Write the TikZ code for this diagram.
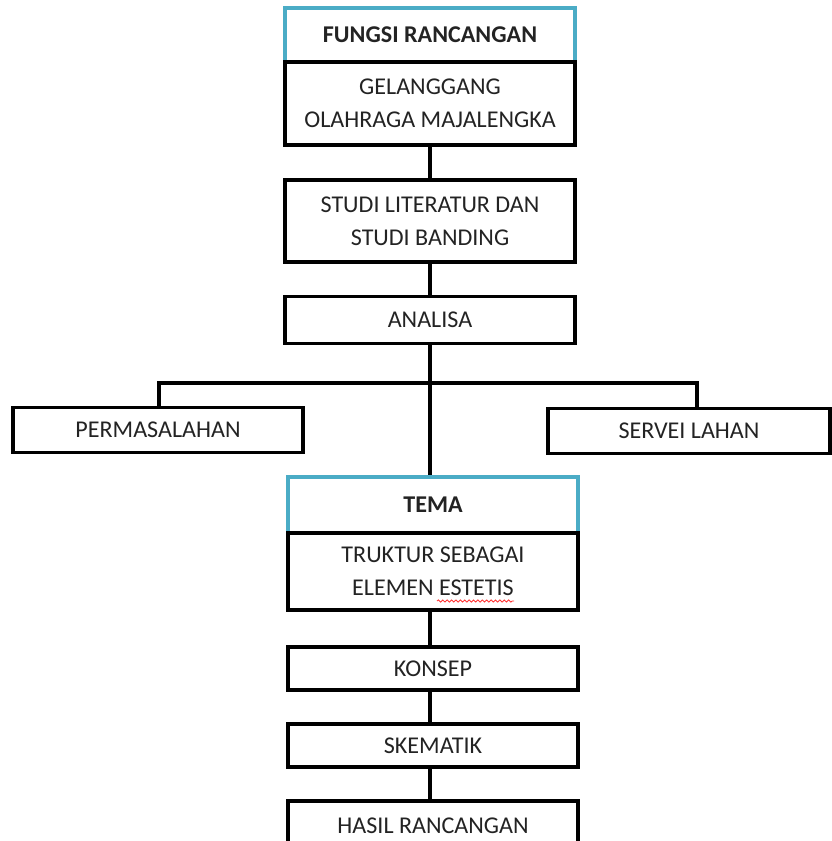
\documentclass[tikz,border=0pt]{standalone}
\usepackage{fontspec}
\setmainfont{Carlito}
\usepackage{xcolor}
\usetikzlibrary{positioning, decorations.pathmorphing}
\definecolor{headblue}{RGB}{75,172,198}
\definecolor{inktext}{RGB}{35,35,35}

\begin{document}
\begin{tikzpicture}[x=0.02cm, y=-0.02cm]
			\tikzstyle{stage} = [rectangle, minimum width=5.8cm, minimum height=0.9cm, inner sep=0pt, align=center, text centered, draw=black, line width=1.9pt, text=inktext, font=\fontsize{13.7}{19}\selectfont]
			\tikzstyle{header} = [stage, draw=headblue, font=\fontsize{13.7}{19}\selectfont\bfseries]
			\tikzstyle{link} = [line width=1.8pt, draw=black]

			\useasboundingbox (0,0) rectangle (831,841);

			\node (fungsi) [header, minimum height=1.08cm] at (430,35) {FUNGSI RANCANGAN};
			\node (gelanggang) [stage, minimum height=1.66cm] at (430,103.5) {GELANGGANG\\OLAHRAGA MAJALENGKA};
			\node (studi) [stage, minimum height=1.64cm] at (430,221) {STUDI LITERATUR DAN\\STUDI BANDING};
			\node (analisa) [stage, minimum height=0.94cm] at (430,320) {ANALISA};

			\node (permasalahan) [stage] at (158,430) {PERMASALAHAN};
			\node (servei) [stage, minimum width=5.64cm] at (689,431) {SERVEI LAHAN};

			\node (tema) [header, minimum height=1.12cm] at (433,505) {TEMA};
			\node (truktur) [stage, minimum height=1.54cm] at (433,571.5) {TRUKTUR SEBAGAI\\ELEMEN ESTETIS};
			\node (konsep) [stage, minimum height=0.86cm] at (433,668.5) {KONSEP};
			\node (skematik) [stage, minimum height=0.86cm] at (433,745.5) {SKEMATIK};
			\node (hasil) [stage, minimum height=1.0cm] at (433,826) {HASIL RANCANGAN};

			\coordinate (lbranch) at (159,383);
			\coordinate (rbranch) at (697,383);

			\draw [link] (gelanggang) -- (studi);
			\draw [link] (studi) -- (analisa);
			\draw [link] (analisa.south) -- (analisa.south |- tema.north);
			\draw [link] (lbranch |- permasalahan.north) -- (lbranch) -- (rbranch) -- (rbranch |- servei.north);
			\draw [link] (truktur.south -| analisa.south) -- (konsep.north -| analisa.south);
			\draw [link] (konsep.south -| analisa.south) -- (skematik.north -| analisa.south);
			\draw [link] (skematik.south -| analisa.south) -- (hasil.north -| analisa.south);

			% spell-check mark under ESTETIS
			\draw [red!80, line width=0.5pt, decorate, decoration={snake, amplitude=0.6pt, segment length=2.5pt}] (437,601) -- (514,601);

		\end{tikzpicture}
\end{document}
